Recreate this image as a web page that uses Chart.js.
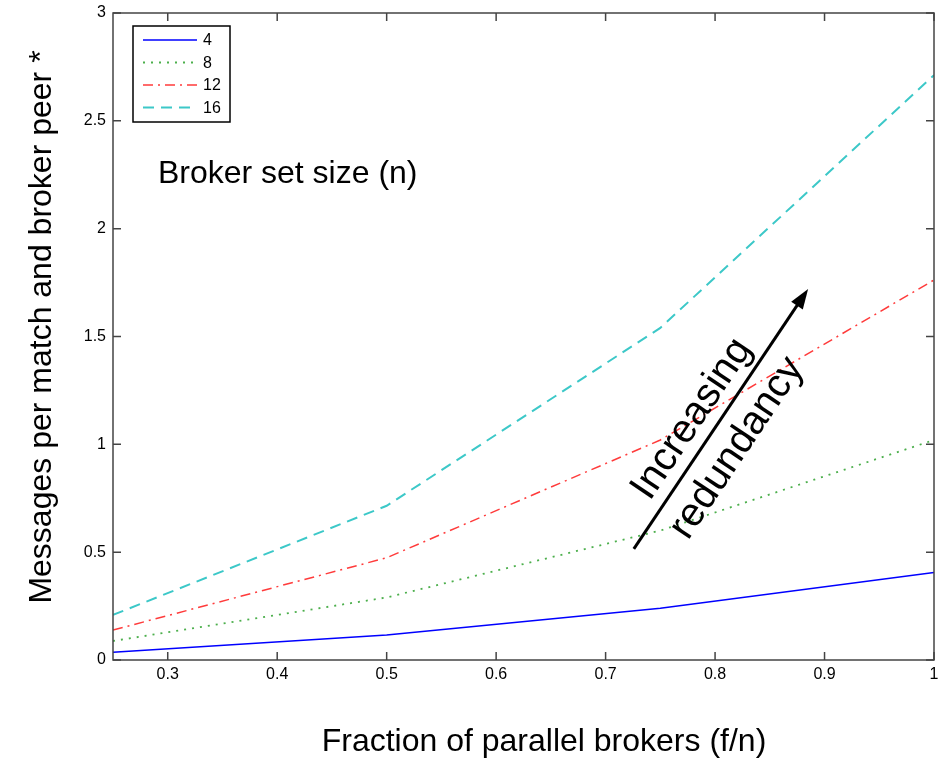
<!DOCTYPE html>
<html>
<head>
<meta charset="utf-8">
<script src="https://cdn.jsdelivr.net/npm/chart.js@4.4.1/dist/chart.umd.min.js"></script>
<style>
  html, body { margin: 0; padding: 0; background: #fff; }
  #wrap { width: 949px; height: 758px; }
</style>
</head>
<body>
<div id="wrap"><canvas id="myChart" width="949" height="758"></canvas></div>
<script>
// data
const fractions = [0.25, 0.5, 0.75, 1];
const setSizes = ['4', '8', '12', '16'];
const msgs4 = [0.036, 0.116, 0.24, 0.406];
const msgs8 = [0.088, 0.29, 0.6, 1.02];
const msgs12 = [0.139, 0.474, 1.02, 1.762];
const msgs16 = [0.209, 0.715, 1.54, 2.712];
const xTicks = [0.3, 0.4, 0.5, 0.6, 0.7, 0.8, 0.9, 1];
const yTicks = [0, 0.5, 1, 1.5, 2, 2.5, 3];

const FONT = '"Liberation Sans", Arial, sans-serif';

function pts(vals) {
  return fractions.map((f, i) => ({ x: f, y: vals[i] }));
}
function fmt(v) {
  return String(v);
}

// frame, inward ticks, legend, labels and arrow (matlab look)
const matlabStyle = {
  id: 'matlabStyle',
  afterDraw(chart) {
    const ctx = chart.ctx;
    const a = chart.chartArea;
    const xs = chart.scales.x, ys = chart.scales.y;
    ctx.save();

    // box
    ctx.strokeStyle = '#444';
    ctx.lineWidth = 1.5;
    ctx.strokeRect(a.left, a.top, a.right - a.left, a.bottom - a.top);

    // ticks
    const tl = 8;
    ctx.beginPath();
    xTicks.forEach(t => {
      const px = xs.getPixelForValue(t);
      ctx.moveTo(px, a.bottom); ctx.lineTo(px, a.bottom - tl);
      ctx.moveTo(px, a.top); ctx.lineTo(px, a.top + tl);
    });
    yTicks.forEach(t => {
      const py = ys.getPixelForValue(t);
      ctx.moveTo(a.left, py); ctx.lineTo(a.left + tl, py);
      ctx.moveTo(a.right, py); ctx.lineTo(a.right - tl, py);
    });
    ctx.stroke();

    // legend
    const lx = a.left + 20, ly = a.top + 13;
    ctx.fillStyle = '#fff';
    ctx.fillRect(lx, ly, 97, 96);
    ctx.strokeStyle = '#000';
    ctx.lineWidth = 1.5;
    ctx.strokeRect(lx, ly, 97, 96);
    ctx.font = '16px ' + FONT;
    ctx.textBaseline = 'middle';
    ctx.textAlign = 'left';
    chart.data.datasets.forEach((ds, i) => {
      const yy = ly + 14 + i * 22.5;
      ctx.beginPath();
      ctx.strokeStyle = ds.borderColor;
      ctx.lineWidth = ds.borderWidth;
      ctx.setLineDash(ds.borderDash || []);
      ctx.moveTo(lx + 10, yy); ctx.lineTo(lx + 64, yy);
      ctx.stroke();
      ctx.setLineDash([]);
      ctx.fillStyle = '#000';
      ctx.fillText(ds.label, lx + 70, yy + 1);
    });

    // axis titles
    ctx.fillStyle = '#000';
    ctx.font = '32px ' + FONT;
    ctx.textAlign = 'center';
    ctx.textBaseline = 'alphabetic';
    ctx.fillText('Fraction of parallel brokers (f/n)', 544, 751);
    ctx.save();
    ctx.translate(51, 327);
    ctx.rotate(-Math.PI / 2);
    ctx.fillText('Messages per match and broker peer *', 0, 0);
    ctx.restore();

    // in-plot note
    ctx.textAlign = 'left';
    ctx.fillText('Broker set size (n)', xs.getPixelForValue(0.291), ys.getPixelForValue(2.21));

    // arrow
    const x0 = xs.getPixelForValue(0.7258), y0 = ys.getPixelForValue(0.515);
    const x1 = xs.getPixelForValue(0.885), y1 = ys.getPixelForValue(1.72);
    const ang = Math.atan2(y1 - y0, x1 - x0);
    ctx.strokeStyle = '#000';
    ctx.lineWidth = 3;
    ctx.beginPath();
    ctx.moveTo(x0, y0);
    ctx.lineTo(x1 - 14 * Math.cos(ang), y1 - 14 * Math.sin(ang));
    ctx.stroke();
    ctx.fillStyle = '#000';
    ctx.beginPath();
    ctx.moveTo(x1, y1);
    ctx.lineTo(x1 - 20 * Math.cos(ang) + 7 * Math.sin(ang), y1 - 20 * Math.sin(ang) - 7 * Math.cos(ang));
    ctx.lineTo(x1 - 20 * Math.cos(ang) - 7 * Math.sin(ang), y1 - 20 * Math.sin(ang) + 7 * Math.cos(ang));
    ctx.closePath();
    ctx.fill();

    // rotated label along arrow
    ctx.font = '40px ' + FONT;
    ctx.textAlign = 'center';
    ctx.textBaseline = 'middle';
    ctx.save();
    ctx.translate(692, 419);
    ctx.rotate(ang);
    ctx.fillText('Increasing', 0, 0);
    ctx.restore();
    ctx.save();
    ctx.translate(737, 448);
    ctx.rotate(ang);
    ctx.fillText('redundancy', 0, 0);
    ctx.restore();

    ctx.restore();
  }
};

const chart = new Chart('myChart', {
  type: 'line',
  data: {
    datasets: [
      { label: setSizes[0], data: pts(msgs4), borderColor: '#0000ff', borderWidth: 1.5, borderDash: [] },
      { label: setSizes[1], data: pts(msgs8), borderColor: '#4caf4c', borderWidth: 1.8, borderDash: [2, 6] },
      { label: setSizes[2], data: pts(msgs12), borderColor: '#ff3b3b', borderWidth: 1.5, borderDash: [10, 5, 2, 5] },
      { label: setSizes[3], data: pts(msgs16), borderColor: '#3cc8c8', borderWidth: 2, borderDash: [11, 7] }
    ]
  },
  options: {
    responsive: false,
    animation: false,
    devicePixelRatio: 1,
    elements: { point: { radius: 0 }, line: { tension: 0 } },
    layout: { padding: { top: 13, right: 15, left: 0, bottom: 0 } },
    plugins: { legend: { display: false }, tooltip: { enabled: false } },
    scales: {
      x: {
        type: 'linear',
        min: 0.25, max: 1,
        afterBuildTicks: s => { s.ticks = xTicks.map(v => ({ value: v })); },
        afterFit: s => { s.height = 98; s.paddingLeft = 0; s.paddingRight = 0; },
        grid: { display: false, drawTicks: false },
        border: { display: false },
        ticks: { color: '#000', font: { family: FONT, size: 16 }, padding: 5, maxRotation: 0, callback: v => fmt(v) }
      },
      y: {
        min: 0, max: 3,
        afterBuildTicks: s => { s.ticks = yTicks.map(v => ({ value: v })); },
        afterFit: s => { s.width = 113; s.paddingTop = 0; s.paddingBottom = 0; },
        grid: { display: false, drawTicks: false },
        border: { display: false },
        ticks: { color: '#000', font: { family: FONT, size: 16 }, padding: 7, callback: v => fmt(v) }
      }
    }
  },
  plugins: [matlabStyle]
});
</script>
</body>
</html>
